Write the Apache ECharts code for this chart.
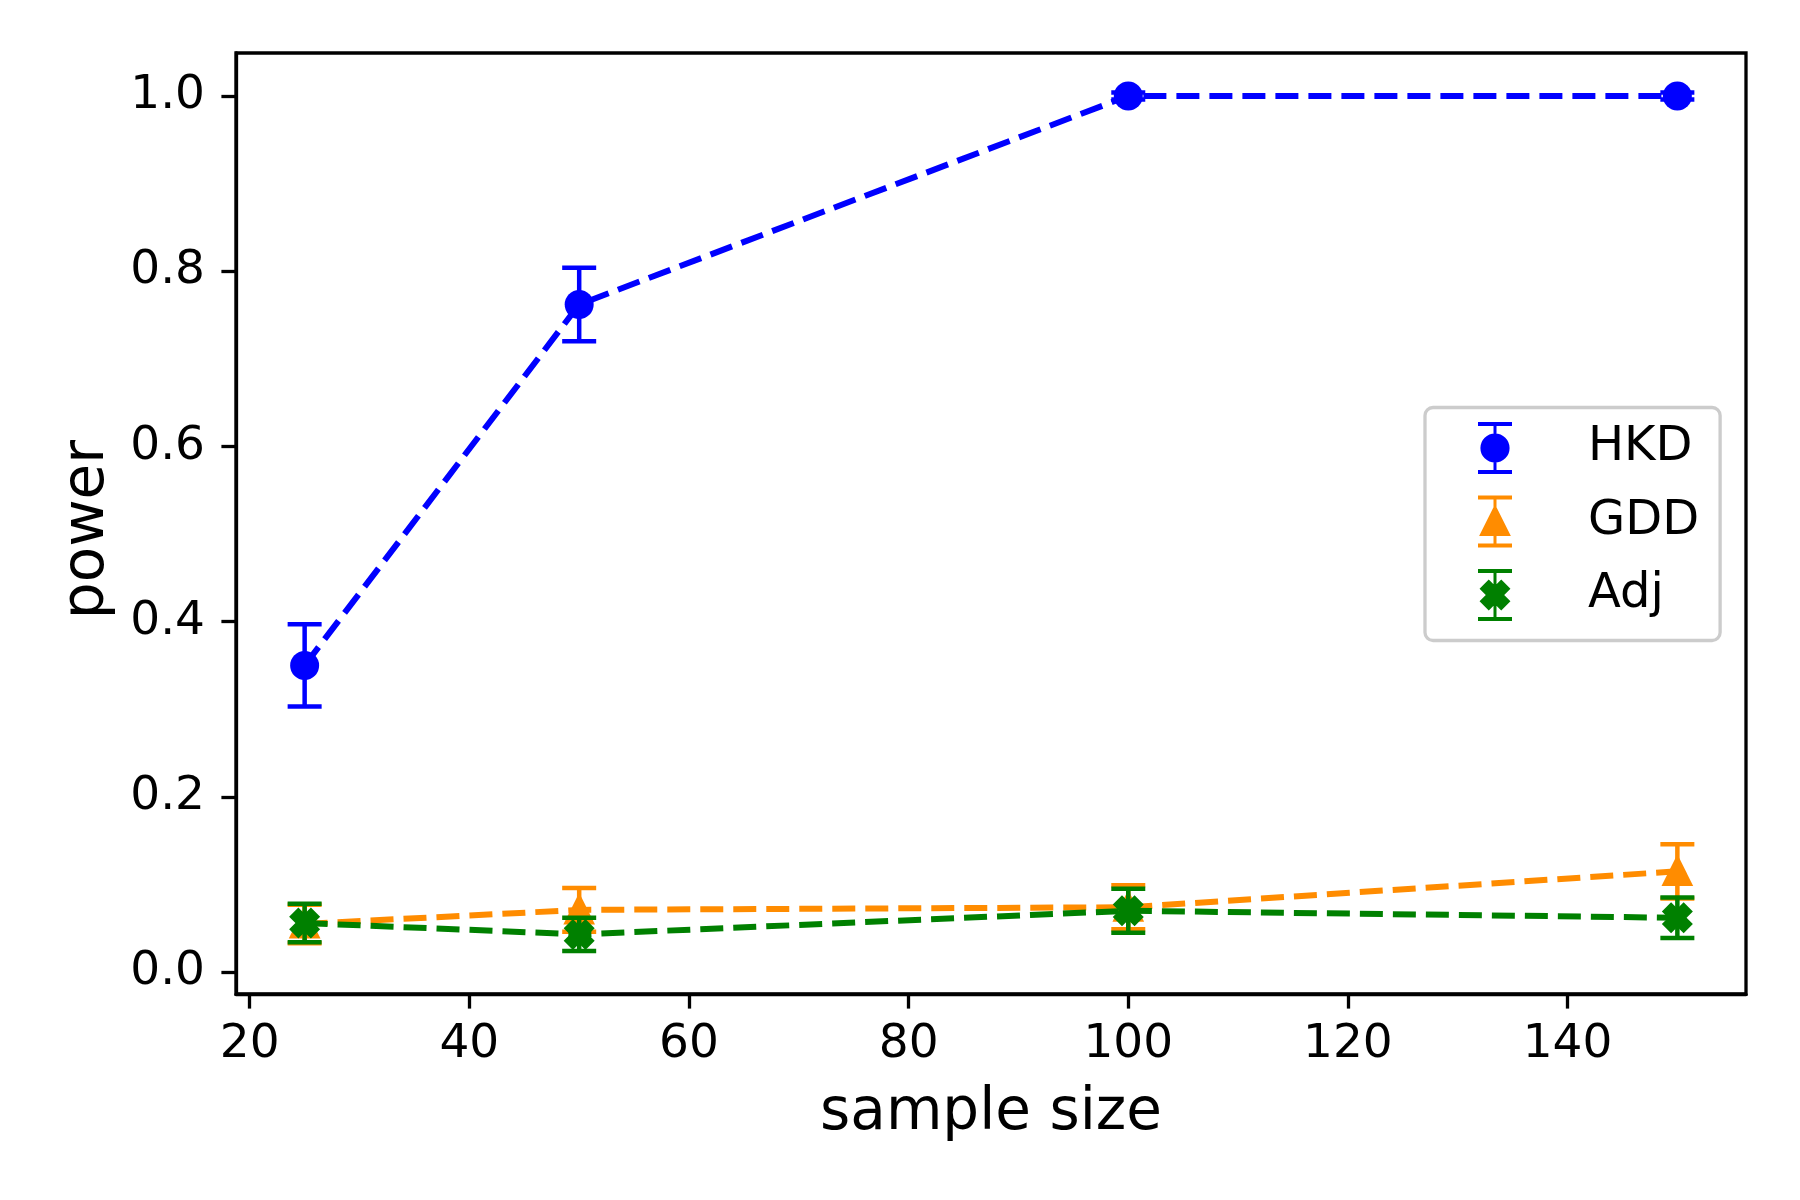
<!DOCTYPE html>
<html>
<head>
<meta charset="utf-8">
<script src="https://cdn.jsdelivr.net/npm/echarts@6/dist/echarts.min.js"></script>
<style>html,body{margin:0;padding:0;background:#fff;}#chart{width:1800px;height:1200px;}</style>
</head>
<body>
<div id="chart"></div>
<script>
// ---- data ----
const sampleSizes = [25, 50, 100, 150];
const seriesNames = ['HKD', 'GDD', 'Adj'];
const hkdPower = [0.350, 0.762, 1.000, 1.000];
const hkdErr   = [0.047, 0.042, 0.004, 0.004];
const gddPower = [0.055, 0.071, 0.074, 0.115];
const gddErr   = [0.022, 0.025, 0.025, 0.031];
const adjPower = [0.056, 0.043, 0.070, 0.062];
const adjErr   = [0.022, 0.019, 0.025, 0.023];
const xTicks = [20, 40, 60, 80, 100, 120, 140];
const yTicks = [0.0, 0.2, 0.4, 0.6, 0.8, 1.0];

// ---- styles ----
const colors = ['#0000ff', '#ff8c00', '#008000'];
const FONT = 'DejaVu Sans';

// thick filled "X" marker (matplotlib style incl. edge)
const xShape = 'M32.44,19.75 L26.19,26 L32.44,32.25 L23.25,41.44 L17,35.19 L10.75,41.44 L1.56,32.25 L7.81,26 L1.56,19.75 L10.75,10.56 L17,16.81 L23.25,10.56 Z';
const markerSymbols = ['circle', 'triangle', 'path://' + xShape];
const markerSizes = [29, 31.7, 31];
const markerOffsets = [[0, 0], [0, -1.3], [0, 0]];

// legend icons (errorbar + marker), drawn in 34x52 box
const capsStem = 'M0,0 L34,0 L34,4 L0,4 Z M0,48 L34,48 L34,52 L0,52 Z M15.5,0 L18.5,0 L18.5,52 L15.5,52 Z ';
const legendIcons = [
  'path://' + capsStem + 'M2.4,26 A14.6,14.6 0 1 1 31.6,26 A14.6,14.6 0 1 1 2.4,26 Z',
  'path://' + capsStem + 'M17,8.85 L32.87,40.58 L1.13,40.58 Z',
  'path://' + capsStem + xShape
];

const allPower = [hkdPower, gddPower, adjPower];
const allErr = [hkdErr, gddErr, adjErr];

const series = [];
seriesNames.forEach((name, i) => {
  const color = colors[i];
  series.push({
    name: name,
    type: 'custom',
    silent: true,
    clip: false,
    z: 2 + i * 2,
    itemStyle: { color: color, borderWidth: 0 },
    data: sampleSizes.map((x, k) => [x, allPower[i][k] - allErr[i][k], allPower[i][k] + allErr[i][k]]),
    encode: { x: 0, y: [1, 2] },
    renderItem: function (params, api) {
      const x = api.value(0);
      const pLo = api.coord([x, api.value(1)]);
      const pHi = api.coord([x, api.value(2)]);
      const hw = 17;
      const st = { stroke: color, lineWidth: 4.5, fill: null };
      return {
        type: 'group',
        children: [
          { type: 'line', shape: { x1: pHi[0], y1: pHi[1], x2: pLo[0], y2: pLo[1] }, style: st },
          { type: 'line', shape: { x1: pHi[0] - hw, y1: pHi[1], x2: pHi[0] + hw, y2: pHi[1] }, style: st },
          { type: 'line', shape: { x1: pLo[0] - hw, y1: pLo[1], x2: pLo[0] + hw, y2: pLo[1] }, style: st }
        ]
      };
    }
  });
  series.push({
    name: name,
    type: 'line',
    z: 3 + i * 2,
    data: sampleSizes.map((x, k) => [x, allPower[i][k]]),
    symbol: markerSymbols[i],
    symbolSize: markerSizes[i],
    symbolOffset: markerOffsets[i],
    showSymbol: true,
    symbolKeepAspect: true,
    itemStyle: { color: color, borderWidth: 0 },
    lineStyle: { color: color, width: 6, type: [23, 10] },
    emphasis: { disabled: true }
  });
});

const chart = echarts.init(document.getElementById('chart'), null, { renderer: 'canvas' });
chart.setOption({
  animation: false,
  backgroundColor: '#ffffff',
  textStyle: { fontFamily: FONT },
  grid: {
    left: 236, right: 54, top: 53, bottom: 206,
    show: true, borderColor: '#000', borderWidth: 3.3, backgroundColor: 'transparent'
  },
  xAxis: {
    type: 'value',
    min: 18.75, max: 156.25,
    name: 'sample size',
    nameLocation: 'middle',
    nameGap: 91,
    nameTextStyle: { fontSize: 58, color: '#000', fontFamily: FONT },
    axisLine: { show: true, onZero: false, lineStyle: { color: '#000', width: 3.3 } },
    splitLine: { show: false },
    axisTick: { show: true, length: 14.6, inside: false, customValues: xTicks, lineStyle: { color: '#000', width: 3.3 } },
    axisLabel: { show: true, customValues: xTicks, margin: 27, fontSize: 47, color: '#000', fontFamily: FONT }
  },
  yAxis: {
    type: 'value',
    min: -0.025, max: 1.049,
    name: 'power',
    nameLocation: 'middle',
    nameGap: 119,
    nameRotate: 90,
    nameTextStyle: { fontSize: 58, color: '#000', fontFamily: FONT, padding: [0, 12, 0, 0] },
    axisLine: { show: true, onZero: false, lineStyle: { color: '#000', width: 3.3 } },
    splitLine: { show: false },
    axisTick: { show: true, length: 14.6, inside: false, customValues: yTicks, lineStyle: { color: '#000', width: 3.3 } },
    axisLabel: { show: true, customValues: yTicks, margin: 31, fontSize: 47, color: '#000', fontFamily: FONT,
      formatter: v => Number(v).toFixed(1) }
  },
  legend: {
    orient: 'vertical',
    left: 1425, top: 407.5,
    padding: [14.5, 21, 19.5, 53],
    itemWidth: 34, itemHeight: 52,
    itemGap: 21.5,
    backgroundColor: 'rgba(255,255,255,0.8)',
    borderColor: '#cccccc', borderWidth: 3.3, borderRadius: 8,
    selectedMode: false,
    itemStyle: { borderWidth: 0 },
    textStyle: { fontSize: 48, color: '#000', fontFamily: FONT, padding: [0, 0, 0, 71] },
    data: seriesNames.map((n, i) => ({ name: n, icon: legendIcons[i], itemStyle: { color: colors[i], borderWidth: 0 } }))
  },
  series: series
});
</script>
</body>
</html>
